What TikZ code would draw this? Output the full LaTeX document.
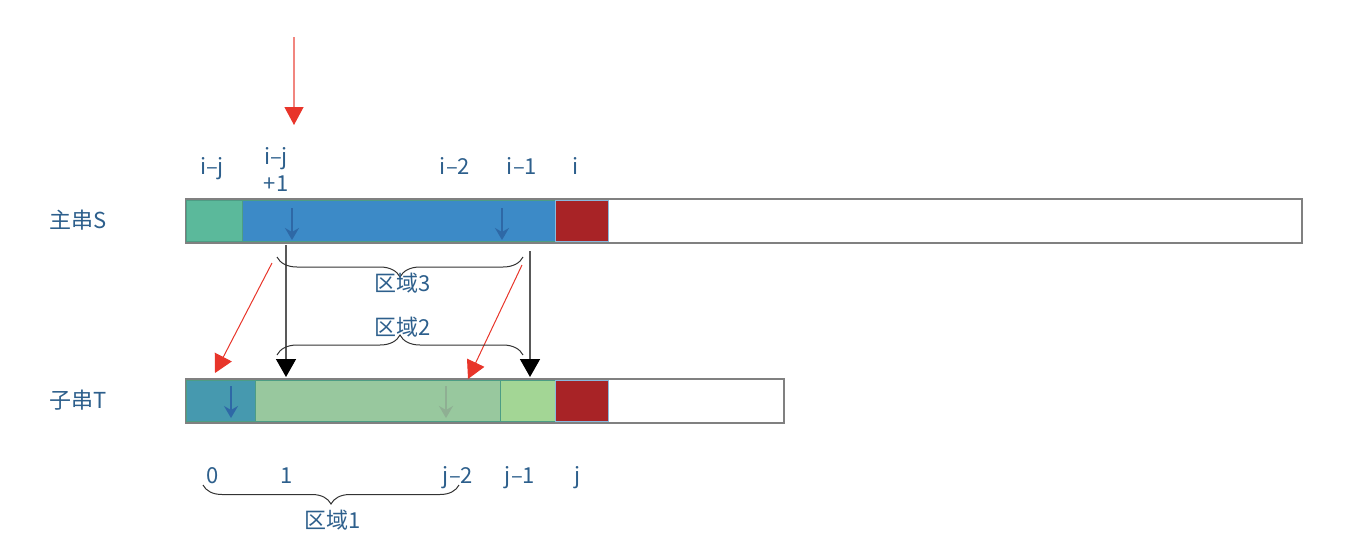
\documentclass[tikz,border=0pt]{standalone}
\usepackage{fontspec}
\setmainfont{Noto Sans CJK SC}
\usepackage{tikz}
\usetikzlibrary{arrows.meta,decorations.pathreplacing}
\definecolor{txtblue}{HTML}{2D5F8C}
\definecolor{cgreen}{HTML}{5BB99B}
\definecolor{cblue}{HTML}{3C8AC7}
\definecolor{cred}{HTML}{A82326}
\definecolor{cteal}{HTML}{4699AF}
\definecolor{cpale}{HTML}{98C89E}
\definecolor{clight}{HTML}{A3D695}
\definecolor{arrred}{HTML}{E8352A}
\definecolor{ptrblue}{HTML}{2E68A6}
\tikzset{
  cell/.style={rectangle, inner sep=0pt, minimum height=41pt, anchor=west, line width=1pt},
  strbox/.style={rectangle, inner sep=0pt, minimum height=44pt, anchor=west, draw=gray, line width=1.8pt},
  lbl/.style={text=txtblue, font=\fontsize{22}{27}\selectfont, inner sep=0pt, anchor=base},
  ptr/.style={draw=ptrblue, line width=1.5pt, -{Stealth[length=12pt, width=14pt, inset=4pt]}},
  blkptr/.style={draw=black!65, line width=1.5pt, -{Triangle[length=18pt, width=20pt, color=black]}},
  redptr/.style={draw=arrred, line width=1pt, -{Triangle[length=18pt, width=19pt, color=arrred]}},
  brc/.style={draw=black!80, line width=1pt, decorate, decoration={brace, amplitude=#1}}
}
\newcommand{\strbox}[3] {\node at (#1) (#2) [strbox, minimum width=#3pt] {};}
\newcommand{\strcell}[5] {\node at (#1) (#2) [cell, minimum width=#3pt, fill=#4, draw=#5] {};}
\newcommand{\strlabel}[3] {\node at (#1) (#2) [lbl] {#3};}
\newcommand{\strpointer}[3] {\draw [#3] (#1) -- (#2);}

\begin{document}
\begin{tikzpicture}[x=1pt, y=-1pt]
\useasboundingbox (0,0) rectangle (1364,552);

\strbox {185,221} {sbox} {1116}
\strcell {186,221} {sgreen} {56} {cgreen} {cgreen!85!black}
\strcell {242,221} {sblue} {313} {cblue} {cgreen!85!black}
\strcell {555,221} {sred} {53} {cred} {cblue!60}

\strbox {185,401} {tbox} {598}
\strcell {186,401} {tteal} {69} {cteal} {cgreen!85!black}
\strcell {255,401} {tpale} {245} {cpale} {cgreen!85!black}
\strcell {500,401} {tlight} {55} {clight} {cgreen!85!black}
\strcell {555,401} {tred} {53} {cred} {cblue!60}

\strlabel {78,228} {sname} {主串S}
\strlabel {78,408} {tname} {子串T}

\strlabel {212,174} {lij} {i–j}
\node at (276,169) (lij1) [lbl, anchor=center, align=center] {i–j\\+1};
\strlabel {455,174} {li2} {i–2}
\strlabel {522,174} {li1} {i–1}
\strlabel {576,174} {li} {i}

\strlabel {213,483} {l0} {0}
\strlabel {287,483} {l1} {1}
\strlabel {458,483} {lj2} {j–2}
\strlabel {520,483} {lj1} {j–1}
\strlabel {578,483} {lj} {j}

\coordinate (top) at (294,37);
\coordinate (topend) at (294,125);
\draw [draw=arrred!60, line width=1.2pt, -{Triangle[length=18pt, width=19pt, color=arrred]}] (top) -- (topend);

\coordinate (sp1) at (292,208);
\coordinate (sp2) at (502,208);
\coordinate (tp1) at (231,386);
\coordinate (tp2) at (446,386);
\strpointer {sp1}{sp1 |- sblue.south}{ptr, shorten >=2pt}
\strpointer {sp2}{sp2 |- sblue.south}{ptr, shorten >=2pt}
\strpointer {tp1}{tp1 |- tteal.south}{ptr, shorten >=4pt}
\strpointer {tp2}{tp2 |- tpale.south}{ptr, draw=gray!35!cpale, shorten >=4pt}

\coordinate (k1) at (286,245);
\coordinate (k2) at (530,251);
\strpointer {k1}{k1 |- tpale.north}{blkptr, shorten >=3pt}
\strpointer {k2}{k2 |- tlight.north}{blkptr, shorten >=3pt}

\coordinate (r1) at (272,263);
\coordinate (r1end) at (215,373);
\coordinate (r2) at (522,265);
\coordinate (r2end) at (468,379);
\strpointer {r1}{r1end}{redptr}
\strpointer {r2}{r2end}{redptr}

\draw [brc=20pt, decoration={mirror}] (277,257) -- (523,257);
\draw [brc=20pt] (277,355) -- (523,355);
\draw [brc=19pt, decoration={mirror}] (203,485) -- (459,485);

\strlabel {403,291} {reg3} {区域3}
\strlabel {403,335} {reg2} {区域2}
\strlabel {333,528} {reg1} {区域1}
\end{tikzpicture}
\end{document}
